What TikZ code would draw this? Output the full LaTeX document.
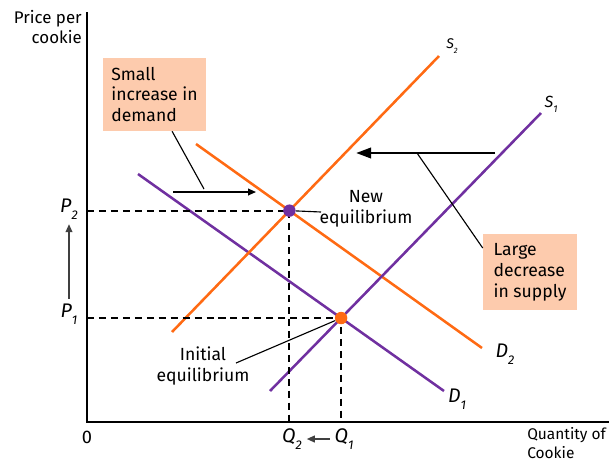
\documentclass[tikz,border=0pt]{standalone}
\usepackage{fontspec}
\setmainfont{Fira Sans}
\usetikzlibrary{arrows.meta,intersections}
\definecolor{supplyorange}{HTML}{FF6A13}
\definecolor{demandpurple}{HTML}{7030A0}
\definecolor{notepeach}{HTML}{FDCBAD}
\newcommand{\sublab}[2]{#1\raisebox{-0.35em}{\fontsize{9}{9}\selectfont #2}}

\begin{document}
\begin{tikzpicture}[x=0.025cm, y=-0.025cm,
    every node/.style={font=\fontsize{12.5}{14.8}\selectfont},
    curve/.style={line width=1.8pt},
    guide/.style={line width=1.4pt, dash pattern=on 5pt off 3.5pt},
    note/.style={fill=notepeach, align=left, minimum width=2.575cm},
    pointer/.style={line width=0.8pt},
    shiftarrow/.style={line width=1pt, -{Triangle[length=0.2cm,width=0.17cm]}},
    eqdot/.style={circle, inner sep=0pt, minimum size=0.31cm},
    curvelab/.style={font=\fontsize{14}{14}\selectfont\itshape}]
  \useasboundingbox (0,0) rectangle (611,462);

  % axes
  \coordinate (origin) at (87,422);
  \coordinate (ytop) at (87,12);
  \coordinate (xend) at (609,422);
  \draw[line width=2pt] (ytop) -- (origin) -- (xend);
  \node[anchor=north east, align=right, inner sep=0pt, font=\fontsize{12}{14}\selectfont] (ylab) at (82,10) {Price per\\cookie};
  \node[anchor=north west, align=left, inner sep=0pt, font=\fontsize{11}{13.5}\selectfont] (xlab) at (527,427) {Quantity of\\Cookie};
  \node[font=\fontsize{13}{13}\selectfont] (zero) at (87,437) {0};

  % supply and demand curves
  \draw[curve, demandpurple, name path=d1] (138,174) -- (444,391);
  \draw[curve, supplyorange, name path=d2] (196,144) -- (482,348);
  \draw[curve, demandpurple, name path=s1] (270,391) -- (541,113);
  \draw[curve, supplyorange, name path=s2] (172,332) -- (439,56);
  \path[name intersections={of=d1 and s1, by=oldeq}];
  \path[name intersections={of=d2 and s2, by=neweq}];

  \node[curvelab] (d1lab) at (457,399) {\sublab{D}{1}};
  \node[curvelab] (d2lab) at (505,354) {\sublab{D}{2}};
  \node[font=\fontsize{11.5}{12}\selectfont\itshape] (s1lab) at (551,104) {S\raisebox{-0.3em}{\fontsize{7}{7}\selectfont 1}};
  \node[font=\fontsize{10}{10}\selectfont\itshape] (s2lab) at (452,46) {S\raisebox{-0.3em}{\fontsize{5.5}{5.5}\selectfont 2}};

  % dashed guides
  \draw[guide] (origin |- neweq) -- (neweq) -- (neweq |- origin);
  \draw[guide] (origin |- oldeq) -- (oldeq) -- (oldeq |- origin);
  \node[eqdot, fill=demandpurple] (newdot) at (neweq) {};
  \node[eqdot, fill=supplyorange] (olddot) at (oldeq) {};

  % price and quantity labels
  \node[curvelab] (p2lab) at (69,209) {\sublab{P}{2}};
  \node[curvelab] (p1lab) at (69,314) {\sublab{P}{1}};
  \node[curvelab] (q2lab) at (292,439) {\sublab{Q}{2}};
  \node[curvelab] (q1lab) at (344,439) {\sublab{Q}{1}};
  \draw[shiftarrow, black!75] (p1lab) -- (p2lab);
  \draw[shiftarrow, black!75] (q1lab) -- (q2lab);

  % equilibrium labels
  \node[align=center] (newlab) at (366,209) {New\\equilibrium};
  \coordinate (newtip) at (321,212);
  \draw[pointer] (newdot) -- (newtip);
  \node[align=center] (oldlab) at (203,366) {Initial\\equilibrium};
  \coordinate (oldtail) at (236,363);
  \draw[pointer] (oldtail) -- (olddot);

  % shift notes
  \node[note, minimum height=1.825cm] (demnote) at (154.5,94.5) {Small\\increase in\\demand};
  \coordinate (demfrom) at (173,192);
  \coordinate (demto) at (256,192);
  \coordinate (demtip) at (204,189);
  \draw[shiftarrow] (demfrom) -- (demto);
  \draw[pointer] ([xshift=0.44cm]demnote.south) -- (demtip);

  \node[note, minimum width=2.35cm, minimum height=1.9cm] (supnote) at (530,272) {Large\\decrease\\in supply};
  \coordinate (supfrom) at (495,153);
  \coordinate (supto) at (356,153);
  \coordinate (supknee) at (417,153);
  \draw[line width=2pt, -{Triangle[length=0.38cm,width=0.26cm]}] (supfrom) -- (supto);
  \draw[pointer] (supknee) -- ([yshift=0.6cm]supnote.west);
\end{tikzpicture}
\end{document}
